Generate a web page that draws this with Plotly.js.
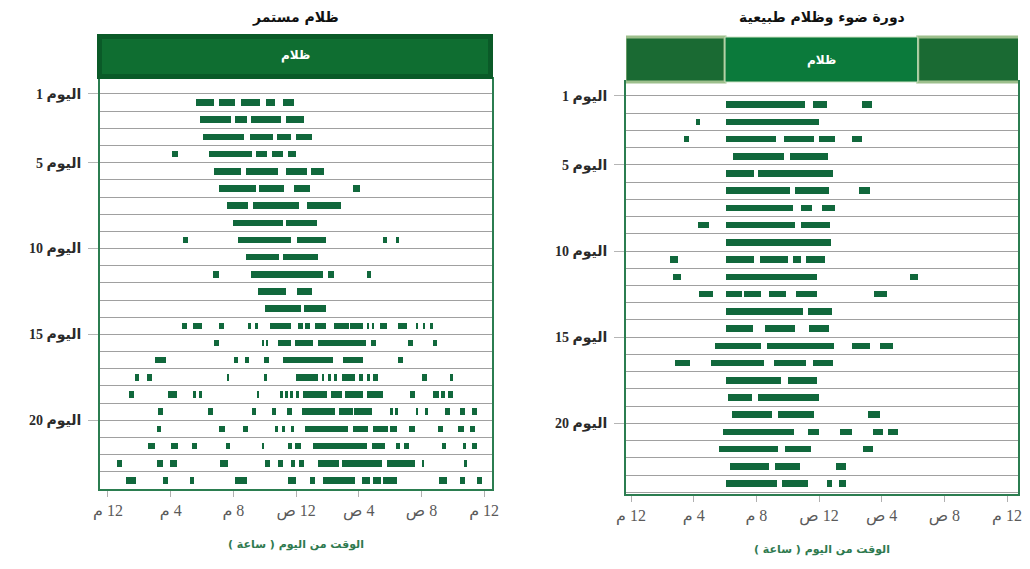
<!DOCTYPE html>
<html>
<head>
<meta charset="utf-8">
<script src="https://cdn.plot.ly/plotly-3.0.1.min.js"></script>
<style>html,body{margin:0;padding:0;background:#fff;}#chart{width:1030px;height:569px;}</style>
</head>
<body>
<div id="chart"></div>
<script>
// ---- data (hours after 12 pm noon; each row = one day) ----
const RLM = '\u200F';
const leftTitle = 'ظلام مستمر';
const rightTitle = 'دورة ضوء وظلام طبيعية';
const headerLabel = 'ظلام';
const axisTitle = RLM + 'الوقت من اليوم ( ساعة )' + RLM;
const dayTickVals = [1, 5, 10, 15, 20];
const dayTickText = ['اليوم 1', 'اليوم 5', 'اليوم 10', 'اليوم 15', 'اليوم 20'].map(t => RLM + t + RLM);
const hourTickVals = [0, 4, 8, 12, 16, 20, 24];
const hourTickText = ['12 م', '4 م', '8 م', '12 ص', '4 ص', '8 ص', '12 م'].map(t => RLM + t + RLM);
const naturalDark = [6, 18.3];

const leftActivity = [
  [[5.62,6.76],[7.08,8.10],[8.49,9.70],[10.08,10.66],[11.17,11.87]],
  [[5.87,7.85],[8.10,8.87],[9.13,11.04],[11.36,12.51]],
  [[6.06,8.68],[9.06,10.53],[10.78,11.68],[12.0,13.02]],
  [[4.08,4.47],[6.45,9.19],[9.44,10.15],[10.47,11.17],[11.49,12.0]],
  [[6.76,8.49],[8.81,10.85],[11.36,12.70],[12.95,13.78]],
  [[7.08,9.44],[9.64,11.23],[11.87,12.89],[15.64,16.08]],
  [[7.59,8.93],[9.25,12.19],[12.70,14.87]],
  [[7.98,11.17],[11.36,13.34]],
  [[4.79,5.10],[8.30,11.68],[12.06,13.91],[17.55,17.80],[18.38,18.57]],
  [[8.81,10.91],[11.17,13.40]],
  [[6.70,7.08],[9.13,13.72],[14.04,14.42],[16.53,16.78]],
  [[9.57,11.36],[12.06,13.02]],
  [[10.02,12.32],[12.51,13.91]],
  [[4.72,5.04],[5.42,6.0],[7.08,7.40],[8.93,9.13],[9.38,9.57],[10.34,11.68],[12.13,12.44],[12.57,12.89],[13.21,13.91],[14.42,15.38],[15.44,16.27],[16.53,16.66],[16.85,16.98],[17.36,17.80],[18.51,19.08],[19.66,19.78],[20.10,20.23],[20.55,20.74]],
  [[6.76,7.08],[9.83,9.96],[10.08,10.21],[10.85,11.68],[11.93,13.08],[13.40,16.46],[16.78,17.10],[19.15,19.46],[20.74,21.0]],
  [[3.0,3.70],[8.04,8.30],[8.74,9.0],[9.96,10.27],[11.17,14.36],[15.0,16.27],[18.51,18.83]],
  [[1.72,1.98],[2.49,2.81],[7.59,7.72],[9.96,10.15],[12.0,13.40],[13.66,13.78],[14.04,14.23],[14.42,14.61],[14.93,15.76],[16.02,16.27],[16.53,16.72],[16.91,17.23],[20.04,20.36],[21.83,22.02]],
  [[1.34,1.66],[3.83,4.40],[5.42,5.62],[5.81,6.0],[9.51,9.64],[10.98,11.17],[11.30,11.49],[11.61,11.81],[12.0,12.19],[12.44,13.97],[14.23,14.93],[15.12,16.27],[16.53,17.55],[19.27,19.59],[20.74,21.12],[21.25,21.51],[21.70,22.02]],
  [[3.19,3.51],[6.38,6.70],[9.19,9.44],[10.47,10.72],[11.42,11.74],[12.38,14.49],[14.74,15.63],[15.70,16.85],[18.0,18.19],[18.32,18.51],[19.66,19.78],[20.23,20.42],[21.51,21.83],[22.46,22.78],[23.23,23.55]],
  [[3.13,3.38],[7.08,7.47],[8.62,8.93],[10.66,10.85],[11.10,11.30],[11.68,11.87],[12.57,15.32],[15.63,16.59],[16.91,17.87],[18.0,18.44],[19.21,19.59],[21.06,21.38],[22.34,22.72],[23.10,23.42]],
  [[2.55,3.0],[4.02,4.47],[5.36,5.68],[7.53,7.79],[9.83,9.96],[11.49,11.74],[11.93,12.32],[13.08,16.53],[16.85,17.68],[18.38,18.63],[18.89,19.21],[21.31,21.57],[22.66,22.85],[23.23,23.55]],
  [[0.57,0.89],[3.13,3.51],[3.96,4.40],[7.15,7.66],[10.02,10.34],[10.85,11.17],[11.68,11.93],[12.19,12.51],[13.40,14.74],[14.93,17.49],[17.80,19.59],[20.04,20.17],[22.72,22.91]],
  [[1.15,1.79],[3.51,3.83],[5.23,5.49],[8.10,8.87],[11.49,12.0],[12.89,13.21],[13.72,15.76],[16.21,16.72],[16.91,17.42],[17.55,18.44],[21.12,21.63],[22.46,22.78],[23.55,23.87]]
];

const rightActivity = [
  [[6.06,11.10],[11.61,12.51],[14.74,15.38]],
  [[4.15,4.40],[6.06,12.0]],
  [[3.38,3.70],[6.06,9.25],[9.76,11.68],[12.0,13.02],[14.10,14.74]],
  [[6.51,9.76],[10.15,12.57]],
  [[6.06,7.85],[8.10,12.89]],
  [[6.06,10.15],[10.47,12.64],[14.55,15.25]],
  [[6.06,10.34],[10.85,11.55],[12.19,13.02]],
  [[4.28,4.98],[6.06,10.47],[10.85,12.70]],
  [[6.06,12.76]],
  [[2.49,3.0],[6.06,7.85],[8.23,10.02],[10.34,10.85],[11.17,12.38]],
  [[2.68,3.19],[6.06,11.87],[17.80,18.32]],
  [[4.34,5.23],[6.06,7.08],[7.21,8.30],[8.81,9.89],[10.53,11.87],[15.51,16.34]],
  [[6.06,10.98],[11.30,12.83]],
  [[6.06,7.79],[8.55,10.47],[11.36,12.64]],
  [[5.36,8.30],[8.68,12.95],[14.10,15.25],[15.89,16.72]],
  [[2.81,3.77],[5.11,8.49],[9.13,11.17],[11.61,12.89]],
  [[6.06,9.57],[10.02,11.87]],
  [[6.19,7.72],[8.10,12.0]],
  [[6.45,9.0],[9.38,11.68],[15.12,15.89]],
  [[5.87,10.40],[11.30,12.0],[13.34,14.10],[15.44,16.08],[16.40,17.04]],
  [[5.62,9.38],[9.83,11.49],[14.81,15.44]],
  [[6.32,8.81],[9.19,10.79],[13.08,13.72]],
  [[6.06,9.32],[9.64,11.30],[12.51,12.83],[13.27,13.72]]
];

// ---- build traces ----
const BAR_COLOR = '#11683c';
function barTrace(rows, xa, ya) {
  const y = [], base = [], len = [];
  rows.forEach((segs, i) => {
    segs.forEach(s => { y.push(i + 1.5); base.push(s[0]); len.push(s[1] - s[0]); });
  });
  return {
    type: 'bar', orientation: 'h', y: y, base: base, x: len, width: 0.38,
    marker: {color: BAR_COLOR, line: {width: 0}},
    xaxis: xa, yaxis: ya, hoverinfo: 'skip', showlegend: false
  };
}

const W = 1030, H = 569;
const px = v => v / W;
const py = v => (H - v) / H;

const FRAME = '#2b7d50';
const tickFontX = {family: 'Liberation Serif, DejaVu Sans, serif', size: 16, color: '#5a5a5a'};
const tickFontY = {family: 'Liberation Serif, DejaVu Sans, serif', size: 14, color: '#2a2a2a', weight: 'bold'};

function xAxis(domain, range, anchor) {
  return {
    domain: domain, range: range, anchor: anchor,
    tickmode: 'array', tickvals: hourTickVals, ticktext: hourTickText,
    ticks: 'outside', ticklen: 6, tickcolor: '#b0b0b0', tickwidth: 1,
    tickfont: tickFontX, showgrid: false, zeroline: false,
    showline: true, mirror: true, linecolor: FRAME, linewidth: 2,
    title: {text: axisTitle, font: {family: 'DejaVu Sans, sans-serif', size: 11, color: '#2f7a4f', weight: 'bold'}, standoff: 20},
    fixedrange: true
  };
}
function yAxis(domain, range, anchor) {
  return {
    domain: domain, range: range, anchor: anchor,
    tickmode: 'array', tickvals: dayTickVals, ticktext: dayTickText,
    ticks: 'outside', ticklen: 10, tickcolor: '#b5b5b5', tickwidth: 1,
    ticklabelstandoff: 4,
    tickfont: tickFontY, showgrid: true, gridcolor: '#a0a0a0', gridwidth: 1,
    minor: {tickmode: 'linear', tick0: 0, dtick: 1, showgrid: true, gridcolor: '#a0a0a0', gridwidth: 1, ticks: ''},
    zeroline: false, showline: true, mirror: true, linecolor: FRAME, linewidth: 2,
    fixedrange: true
  };
}

const shapes = [
  // left header (continuous darkness)
  {type: 'rect', xref: 'paper', yref: 'paper', x0: px(97), x1: px(493), y0: py(79), y1: py(34),
   fillcolor: '#0a5a28', line: {width: 0}, layer: 'above'},
  {type: 'rect', xref: 'paper', yref: 'paper', x0: px(102), x1: px(488), y0: py(74), y1: py(39),
   fillcolor: '#0f6e31', line: {width: 0}, layer: 'above'},
  // right header: light parts (left/right) and dark part
  {type: 'rect', xref: 'x2', yref: 'paper', x0: -0.38, x1: naturalDark[0], y0: py(82), y1: py(37),
   fillcolor: '#1a6a33', line: {color: '#9dbf8c', width: 3}, layer: 'above'},
  {type: 'rect', xref: 'x2', yref: 'paper', x0: naturalDark[1], x1: 24.95, y0: py(82), y1: py(37),
   fillcolor: '#1a6a33', line: {color: '#9dbf8c', width: 3}, layer: 'above'},
  {type: 'rect', xref: 'x2', yref: 'paper', x0: naturalDark[0], x1: naturalDark[1], y0: py(82), y1: py(37),
   fillcolor: '#0b7a3b', line: {color: '#cfe3c4', width: 1}, layer: 'above'}
];

const annFont = {family: 'DejaVu Sans, sans-serif', size: 14, color: '#111', weight: 'bold'};
const annotations = [
  {text: leftTitle, xref: 'paper', yref: 'paper', x: px(296), y: py(18), showarrow: false, font: annFont, xanchor: 'center', yanchor: 'middle'},
  {text: rightTitle, xref: 'paper', yref: 'paper', x: px(822), y: py(18), showarrow: false, font: annFont, xanchor: 'center', yanchor: 'middle'},
  {text: headerLabel, xref: 'paper', yref: 'paper', x: px(295), y: py(56), showarrow: false,
   font: {family: 'DejaVu Sans, sans-serif', size: 12, color: '#ffffff', weight: 'bold'}, xanchor: 'center', yanchor: 'middle'},
  {text: headerLabel, xref: 'x2', yref: 'paper', x: (naturalDark[0] + naturalDark[1]) / 2, y: py(60), showarrow: false,
   font: {family: 'DejaVu Sans, sans-serif', size: 12, color: '#ffffff', weight: 'bold'}, xanchor: 'center', yanchor: 'middle'}
];

const layout = {
  width: W, height: H,
  margin: {l: 0, r: 0, t: 0, b: 0},
  paper_bgcolor: '#ffffff', plot_bgcolor: '#ffffff',
  showlegend: false, bargap: 0,
  xaxis: xAxis([px(100), px(492)], [-0.51, 24.5], 'y'),
  yaxis: yAxis([py(489), py(79)], [24, 0.13], 'x'),
  xaxis2: xAxis([px(626), px(1018)], [-0.32, 24.7], 'y2'),
  yaxis2: yAxis([py(494), py(82)], [24.1, 0.19], 'x2'),
  shapes: shapes,
  annotations: annotations
};

Plotly.newPlot('chart', [barTrace(leftActivity, 'x', 'y'), barTrace(rightActivity, 'x2', 'y2')], layout,
  {displayModeBar: false, staticPlot: true});
</script>
</body>
</html>
